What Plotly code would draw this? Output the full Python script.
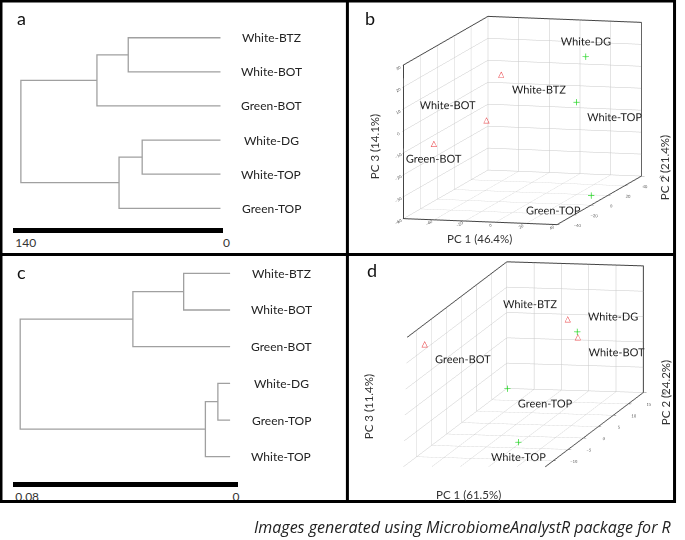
import plotly.graph_objects as go

W, H = 685, 540

# ---------------- data ----------------
# Panel a: dendrogram (distance scale 0-140)
leaves_a = ["White-BTZ", "White-BOT", "Green-BOT", "White-DG", "White-TOP", "Green-TOP"]
merges_a = [(0, 1, 62.2), (6, 2, 83.3), (3, 4, 52.8), (8, 5, 68.4), (7, 9, 134.6)]
scale_a = [140, 0]

# Panel c: dendrogram (distance scale 0-0.08)
leaves_c = ["White-BTZ", "White-BOT", "Green-BOT", "White-DG", "Green-TOP", "White-TOP"]
merges_c = [(0, 1, 0.0171), (6, 2, 0.0358), (3, 4, 0.0045), (8, 5, 0.0091), (7, 9, 0.0773)]
scale_c = [0.08, 0]

# Panel b: PCA 3D
b_names = ["White-BTZ", "White-BOT", "Green-BOT", "White-DG", "White-TOP", "Green-TOP"]
b_pc1 = [-29.4, -22.5, -45.8, 25.6, 19.6, 38.0]
b_pc2 = [20, -10, -30, 20, 20, 4]
b_pc3 = [13.2, -0.8, -7.7, 22.9, 2.0, -36.5]
b_group = ["red", "red", "red", "green", "green", "green"]
b_pos = ["bottom right", "top left", "bottom center", "top center", "bottom right", "bottom left"]

# Panel d: PCA 3D
d_names = ["White-BTZ", "White-BOT", "Green-BOT", "White-DG", "White-TOP", "Green-TOP"]
d_pc1 = [3.3, 7.0, -24.9, 6.75, 7.2, -13.3]
d_pc2 = [10, 10, -12, 10, -10, 5]
d_pc3 = [3.7, 0.2, 8.2, 1.3, -11.5, -8.0]
d_group = ["red", "red", "red", "green", "green", "green"]
d_pos = ["top left", "bottom right", "bottom right", "top right", "bottom center", "bottom right"]

FONT = "Lato"
LINE_GRAY = "#a0a0a0"


def px(x):
    return x / W


def py(y):
    return 1 - y / H


def dendro_xy(n, merges):
    pos = {i: n - 1 - i for i in range(n)}
    hgt = {i: 0 for i in range(n)}
    xs, ys = [], []
    for k, (a, b, h) in enumerate(merges):
        c = n + k
        xs += [hgt[a], h, h, hgt[b], None]
        ys += [pos[a], pos[a], pos[b], pos[b], None]
        pos[c] = (pos[a] + pos[b]) / 2
        hgt[c] = h
    return xs, ys


fig = go.Figure()

# ---- dendrogram a ----
xa, ya = dendro_xy(len(leaves_a), merges_a)
fig.add_trace(go.Scatter(x=xa, y=ya, mode="lines", line=dict(color=LINE_GRAY, width=1.3),
                         xaxis="x", yaxis="y", showlegend=False, hoverinfo="skip"))
# ---- dendrogram c ----
xc, yc = dendro_xy(len(leaves_c), merges_c)
fig.add_trace(go.Scatter(x=xc, y=yc, mode="lines", line=dict(color=LINE_GRAY, width=1.3),
                         xaxis="x2", yaxis="y2", showlegend=False, hoverinfo="skip"))

annotations = []
for i, name in enumerate(leaves_a):
    annotations.append(dict(x=0, y=len(leaves_a) - 1 - i, xref="x", yref="y", text=name,
                            showarrow=False, xanchor="center", xshift=51,
                            font=dict(family=FONT, size=12, color="#222")))
for i, name in enumerate(leaves_c):
    annotations.append(dict(x=0, y=len(leaves_c) - 1 - i, xref="x2", yref="y2", text=name,
                            showarrow=False, xanchor="center", xshift=51,
                            font=dict(family=FONT, size=12, color="#222")))


def add_pca(names, p1, p2, p3, groups, poss, scene):
    gi = [i for i, g in enumerate(groups) if g == "green"]
    ri = [i for i, g in enumerate(groups) if g == "red"]
    fig.add_trace(go.Scatter3d(x=[p1[i] for i in gi], y=[p2[i] for i in gi], z=[p3[i] for i in gi],
                               mode="markers", marker=dict(symbol="cross", size=3.5, color="#2fd82f"),
                               scene=scene, showlegend=False, hoverinfo="skip"))
    fig.add_trace(go.Scatter3d(x=[p1[i] for i in ri], y=[p2[i] for i in ri], z=[p3[i] for i in ri],
                               mode="text", text=["△"] * len(ri), textposition="middle center",
                               textfont=dict(color="#e8262b", size=8, family="DejaVu Sans"),
                               scene=scene, showlegend=False, hoverinfo="skip"))
    fig.add_trace(go.Scatter3d(x=p1, y=p2, z=p3, mode="text", text=names, textposition=poss,
                               textfont=dict(color="#222", size=11, family=FONT),
                               scene=scene, showlegend=False, hoverinfo="skip"))


add_pca(b_names, b_pc1, b_pc2, b_pc3, b_group, b_pos, "scene")
add_pca(d_names, d_pc1, d_pc2, d_pc3, d_group, d_pos, "scene2")


def ax3d(rng, dtick):
    return dict(range=rng, dtick=dtick, tick0=rng[0], autorange=False,
                showbackground=False, showgrid=True, gridcolor="#c8c8c8", gridwidth=1,
                showline=True, linecolor="#444", linewidth=2, mirror=True,
                zeroline=False, showspikes=False, ticks="outside", ticklen=3, tickcolor="#444",
                tickfont=dict(size=7, color="#555", family=FONT), title=dict(text=""))


# camera geometry (oblique-like view)
eye_b = dict(x=0.2494, y=-0.9567, z=0.15)
eye_d = dict(x=0.192, y=-0.9699, z=0.15)
kb, kd = 2.0, 2.0
zb, zd = 2.7, 3.0   # orthographic zoom via aspect ratio

scene_b = dict(
    domain=dict(x=[px(371), px(685)], y=[py(238), py(3)]),
    xaxis=ax3d([-60, 40], 20), yaxis=ax3d([-40, 60], 20), zaxis=ax3d([-40, 30], 10),
    aspectmode="manual", aspectratio=dict(x=0.5 * zb, y=1.055 * zb, z=0.49 * zb),
    camera=dict(eye=dict(x=eye_b["x"] * kb, y=eye_b["y"] * kb, z=eye_b["z"] * kb),
                up=dict(x=0, y=0, z=1), center=dict(x=0, y=0, z=0),
                projection=dict(type="orthographic")),
    bgcolor="rgba(0,0,0,0)",
)
scene_d = dict(
    domain=dict(x=[px(371), px(685)], y=[py(483), py(251)]),
    xaxis=ax3d([-30, 20], 10), yaxis=ax3d([-15, 20], 5), zaxis=ax3d([-15, 10], 5),
    aspectmode="manual", aspectratio=dict(x=0.4 * zd, y=1.556 * zd, z=0.368 * zd),
    camera=dict(eye=dict(x=eye_d["x"] * kd, y=eye_d["y"] * kd, z=eye_d["z"] * kd),
                up=dict(x=0, y=0, z=1), center=dict(x=0, y=0, z=0),
                projection=dict(type="orthographic")),
    bgcolor="rgba(0,0,0,0)",
)

# axis titles for 3D panels
def title_ann(text, x, y, angle=0):
    return dict(x=px(x), y=py(y), xref="paper", yref="paper", text=text, showarrow=False,
                textangle=angle, xanchor="center", yanchor="middle",
                font=dict(family=FONT, size=11.5, color="#333"))


annotations += [
    title_ann("PC 1 (46.4%)", 484, 238), title_ann("PC 3 (14.1%)", 379, 147, -90),
    title_ann("PC 2 (21.4%)", 671, 168, -90),
    title_ann("PC 1 (61.5%)", 473, 494), title_ann("PC 3 (11.4%)", 372, 407, -90),
    title_ann("PC 2 (24.2%)", 672, 393, -90),
]

# panel letters
for letter, x, y in [("a", 22, 18), ("b", 374, 18), ("c", 22, 272), ("d", 376, 270)]:
    annotations.append(dict(x=px(x), y=py(y), xref="paper", yref="paper", text=letter,
                            showarrow=False, xanchor="center", yanchor="middle",
                            font=dict(family=FONT, size=18, color="#111")))

# caption
annotations.append(dict(x=px(681), y=py(527), xref="paper", yref="paper",
                        text="<i>Images generated using MicrobiomeAnalystR package for R</i>",
                        showarrow=False, xanchor="right", yanchor="middle",
                        font=dict(family="Open Sans", size=16, color="#222")))

# panel frames
shapes = [
    dict(type="rect", xref="paper", yref="paper", x0=px(1), x1=px(681.5), y0=py(1), y1=py(501.5),
         line=dict(color="black", width=3), layer="above"),
    dict(type="line", xref="paper", yref="paper", x0=px(351), x1=px(351), y0=py(1), y1=py(501.5),
         line=dict(color="black", width=3), layer="above"),
    dict(type="line", xref="paper", yref="paper", x0=px(1), x1=px(681.5), y0=py(254.5), y1=py(254.5),
         line=dict(color="black", width=3), layer="above"),
]


def xdendro(domain, rng, ticks):
    return dict(domain=domain, range=rng, showline=True, linewidth=5, linecolor="black",
                tickvals=ticks, ticktext=[str(t) for t in ticks], ticks="", showgrid=False,
                zeroline=False, ticklabelposition="outside right",
                tickfont=dict(family=FONT, size=12, color="#333"), fixedrange=True)


fig.update_layout(
    width=W, height=H, margin=dict(l=0, r=0, t=0, b=0),
    paper_bgcolor="white", plot_bgcolor="rgba(0,0,0,0)", hovermode=False,
    xaxis=xdendro([px(13), px(225)], [140, -1.5], scale_a),
    yaxis=dict(domain=[py(227.5), py(20)], range=[-0.563, 5.52], visible=False, fixedrange=True),
    xaxis2=dict(xdendro([px(13), px(240.7)], [0.08, -0.003], scale_c), anchor="y2"),
    yaxis2=dict(domain=[py(482), py(265)], range=[-0.689, 5.226], visible=False, fixedrange=True,
                anchor="x2"),
    scene=scene_b, scene2=scene_d,
    annotations=annotations, shapes=shapes,
)
fig.update_layout(xaxis=dict(anchor="y"), yaxis=dict(anchor="x"))

fig.write_html("out.html", config={"displayModeBar": False},
               post_script="document.body.style.margin='0';document.body.style.padding='0';")
